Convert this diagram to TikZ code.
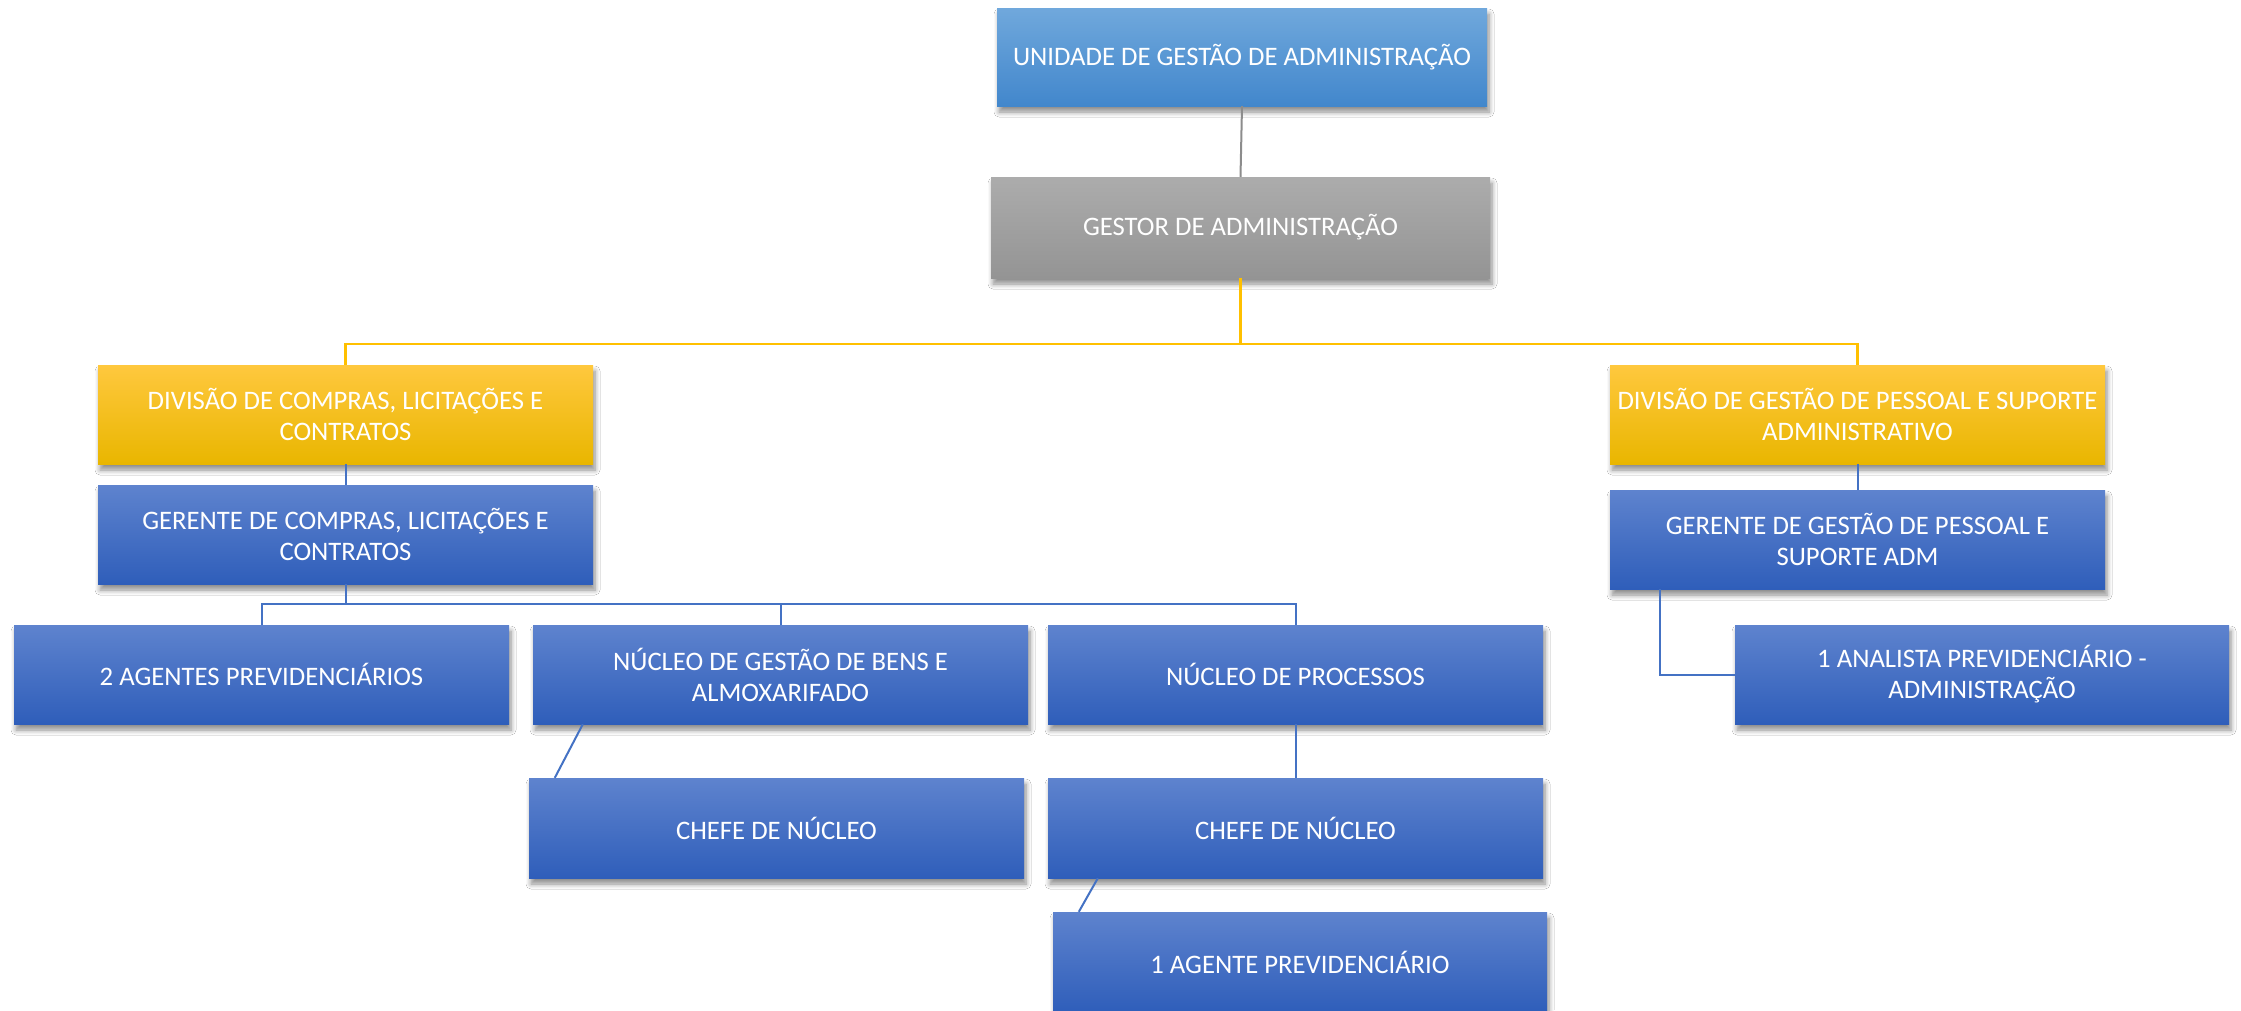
\documentclass[tikz,border=0pt]{standalone}
\usepackage{fontspec}
\setmainfont{Carlito}
\usetikzlibrary{shadows,shadows.blur}
\definecolor{bluetop}{RGB}{94,131,206}
\definecolor{bluebot}{RGB}{47,94,186}
\definecolor{ltop}{RGB}{112,168,220}
\definecolor{lbot}{RGB}{66,135,204}
\definecolor{gtop}{RGB}{172,172,172}
\definecolor{gbot}{RGB}{148,148,148}
\definecolor{ytop}{RGB}{255,200,62}
\definecolor{ybot}{RGB}{233,182,0}
\definecolor{bline}{RGB}{68,114,196}
\definecolor{yline}{RGB}{255,192,0}
\definecolor{gline}{RGB}{140,140,140}
\tikzset{
  box/.style={rectangle, minimum width=495pt, minimum height=99pt, inner sep=0pt,
    align=center, text=white, font=\fontsize{26.7}{31}\selectfont,
    blur shadow={shadow xshift=2pt, shadow yshift=-6pt, shadow blur radius=5pt, shadow blur steps=6, shadow opacity=45}},
  bluebox/.style={box, shading=axis, top color=bluetop, bottom color=bluebot},
  topbox/.style={box, shading=axis, top color=ltop, bottom color=lbot},
  graybox/.style={box, shading=axis, top color=gtop, bottom color=gbot},
  yelbox/.style={box, shading=axis, top color=ytop, bottom color=ybot},
  bcon/.style={draw=bline, line width=2pt},
  ycon/.style={draw=yline, line width=2.5pt},
  gcon/.style={draw=gline, line width=2pt}
}
\begin{document}
\begin{tikzpicture}[x=1pt,y=-1pt]
\useasboundingbox[fill=white] (0,0) rectangle (2241,1010);
\coordinate (yb) at (0,344);
\coordinate (bb) at (0,604);
\node[topbox, minimum width=490pt, minimum height=98pt] (unidade) at (1242,57) {UNIDADE DE GESTÃO DE ADMINISTRAÇÃO};
\node[graybox, minimum width=499pt, minimum height=101pt] (gestor) at (1240.5,227.5) {GESTOR DE ADMINISTRAÇÃO};
\node[yelbox] (divA) at (345.5,414.5) {DIVISÃO DE COMPRAS, LICITAÇÕES E\\CONTRATOS};
\node[bluebox] (gerA) at (345.5,534.5) {GERENTE DE COMPRAS, LICITAÇÕES E\\CONTRATOS};
\node[yelbox] (divB) at (1857.5,414.5) {DIVISÃO DE GESTÃO DE PESSOAL E SUPORTE\\ADMINISTRATIVO};
\node[bluebox] (gerB) at (1857.5,539.5) {GERENTE DE GESTÃO DE PESSOAL E\\SUPORTE ADM};
\node[bluebox] (agentes) at (261.5,674.5) {2 AGENTES PREVIDENCIÁRIOS};
\node[bluebox] (bens) at (780.5,674.5) {NÚCLEO DE GESTÃO DE BENS E\\ALMOXARIFADO};
\node[bluebox] (proc) at (1295.5,674.5) {NÚCLEO DE PROCESSOS};
\node[bluebox, minimum height=100pt] (chefeA) at (776.5,828) {CHEFE DE NÚCLEO};
\node[bluebox, minimum height=100pt] (chefeB) at (1295.5,828) {CHEFE DE NÚCLEO};
\node[bluebox, minimum width=494pt, minimum height=100pt] (agente) at (1300,962) {1 AGENTE PREVIDENCIÁRIO};
\node[bluebox, minimum width=494pt] (analista) at (1982,674.5) {1 ANALISTA PREVIDENCIÁRIO -\\ADMINISTRAÇÃO};
% connectors
\draw[gcon] (unidade.south) -- (gestor.north);
\draw[ycon] (gestor.south) -- (gestor.south |- yb);
\draw[ycon] (divA.north) -- (divA.north |- yb) -| (divB.north);
\draw[bcon] (divA.south) -- (gerA.north);
\draw[bcon] (gerA.south) -- (gerA.south |- bb);
\draw[bcon] (agentes.north) -- (agentes.north |- bb) -| (proc.north);
\draw[bcon] (bens.north) -- (bens.north |- bb);
\draw[bcon] ([xshift=50pt]bens.south west) -- ([xshift=26pt]chefeA.north west);
\draw[bcon] (proc.south) -- (chefeB.north);
\draw[bcon] ([xshift=50pt]chefeB.south west) -- ([xshift=26pt]agente.north west);
\draw[bcon] (divB.south) -- (gerB.north);
\draw[bcon] ([xshift=50pt]gerB.south west) |- (analista.west);
\end{tikzpicture}
\end{document}
